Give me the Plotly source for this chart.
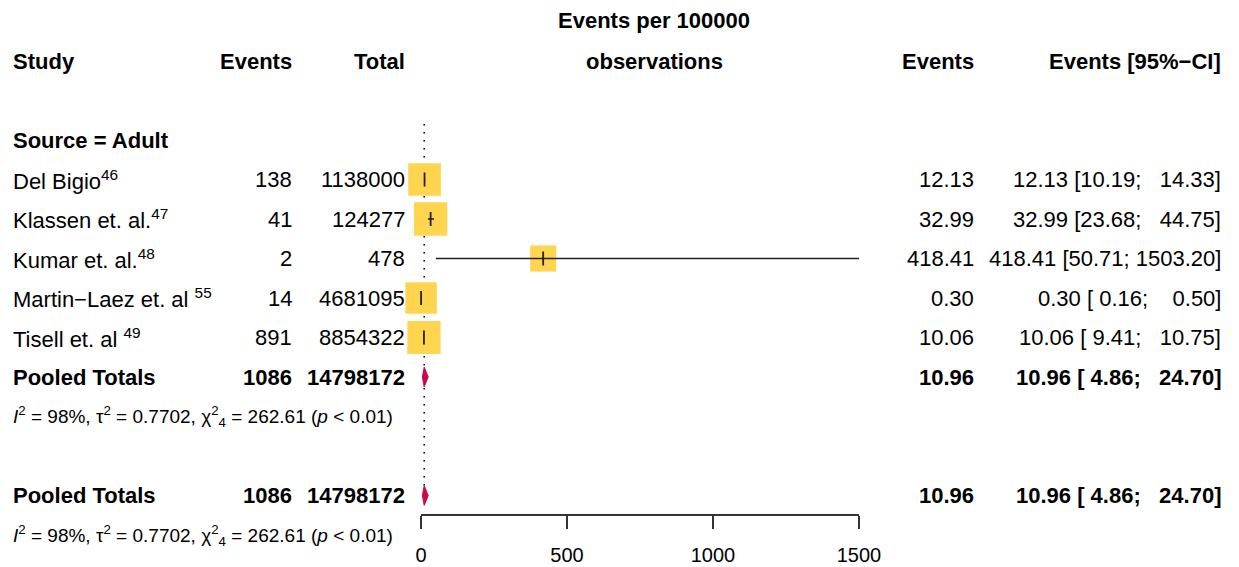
import plotly.graph_objects as go

# ---------------- data ----------------
studies = ["Del Bigio", "Klassen et. al.", "Kumar et. al.", "Martin\u2212Laez et. al\u00a0", "Tisell et. al\u00a0"]
refs = ["46", "47", "48", "55", "49"]
events = [138, 41, 2, 14, 891]
totals = [1138000, 124277, 478, 4681095, 8854322]
rate = [12.13, 32.99, 418.41, 0.30, 10.06]
lower = [10.19, 23.68, 50.71, 0.16, 9.41]
upper = [14.33, 44.75, 1503.20, 0.50, 10.75]
weights = [21.6, 22.4, 13.7, 20.0, 22.3]   # approx. % weight (square area)

pooled_events = 1086
pooled_total = 14798172
pooled_rate = 10.96
pooled_lower = 4.86
pooled_upper = 24.70
het_text = "<i>I</i><sup>2</sup> = 98%, \u03c4<sup>2</sup> = 0.7702, \u03c7<sup>2</sup><sub>4</sub> = 262.61 (<i>p</i> &lt; 0.01)"

x_ticks = [0, 500, 1000, 1500]

# ---------------- layout geometry ----------------
W, H = 1239, 567
ROW0_PX, ROW_PX = 61.0, 39.5
def row_of(px):
    return (px - ROW0_PX) / ROW_PX

study_rows = [3, 4, 5, 6, 7]
pooled_rows = [8, 11]
stat_rows = [9, 12]

FONT = "Liberation Sans, Arial, sans-serif"
FS = 22
FS_STAT = 19

def px(x):
    return x / W

fig = go.Figure()

# reference (dotted) line at pooled estimate
fig.add_trace(go.Scatter(x=[pooled_rate, pooled_rate], y=[row_of(124), pooled_rows[1]],
                         mode="lines", line=dict(color="#111", width=1.6, dash="1.6px,6.4px"),
                         hoverinfo="skip", showlegend=False))

# squares
sizes = [7.04 * (w ** 0.5) for w in weights]
fig.add_trace(go.Scatter(x=rate, y=study_rows, mode="markers",
                         marker=dict(symbol="square", size=sizes, color="#FFD54F", opacity=1,
                                     line=dict(width=0)),
                         cliponaxis=False, hoverinfo="skip", showlegend=False))

# CI lines
cx, cy = [], []
for l, u, r in zip(lower, upper, study_rows):
    cx += [l, u, None]
    cy += [r, r, None]
fig.add_trace(go.Scatter(x=cx, y=cy, mode="lines", line=dict(color="#222", width=1.6),
                         hoverinfo="skip", showlegend=False))

# estimate ticks
fig.add_trace(go.Scatter(x=rate, y=study_rows, mode="markers",
                         marker=dict(symbol="line-ns", size=10, opacity=1,
                                     line=dict(width=1.8, color="#222")),
                         cliponaxis=False, hoverinfo="skip", showlegend=False))

# diamonds
for r in pooled_rows:
    h = 0.25
    fig.add_trace(go.Scatter(x=[pooled_lower, pooled_rate, pooled_upper, pooled_rate, pooled_lower],
                             y=[r, r - h, r, r + h, r], mode="lines", fill="toself",
                             fillcolor="#C8084F", line=dict(color="#C8084F", width=1),
                             hoverinfo="skip", showlegend=False))

# ---------------- text ----------------
ann = []
def txt(x, row, s, anchor="left", bold=False, size=FS):
    if bold:
        s = "<b>" + s + "</b>"
    ann.append(dict(x=px(x), y=row, xref="paper", yref="y", text=s, showarrow=False,
                    xanchor=anchor, yanchor="middle", borderpad=0, borderwidth=0,
                    font=dict(family=FONT, size=size, color="black")))

# headers
txt(654, row_of(20), "Events per 100000", "center", True)
txt(13, 0, "Study", "left", True)
txt(292, 0, "Events", "right", True)
txt(405, 0, "Total", "right", True)
txt(654, 0, "observations", "center", True)
txt(974, 0, "Events", "right", True)
txt(1221, 0, "Events [95%\u2212CI]", "right", True)

txt(13, 2, "Source = Adult", "left", True)

def nb(s):
    return s.replace(" ", "\u00a0")

for name, ref, e, t, r, l, u, row in zip(studies, refs, events, totals, rate, lower, upper, study_rows):
    txt(13, row, f"{name}<sup>{ref}</sup>", "left")
    txt(292, row, str(e), "right")
    txt(405, row, str(t), "right")
    txt(974, row, f"{r:.2f}", "right")
    txt(1221, row, nb(f"{r:.2f} [{l:5.2f}; {u:7.2f}]"), "right")

for row, srow in zip(pooled_rows, stat_rows):
    txt(13, row, "Pooled Totals", "left", True)
    txt(292, row, str(pooled_events), "right", True)
    txt(405, row, str(pooled_total), "right", True)
    txt(974, row, f"{pooled_rate:.2f}", "right", True)
    txt(1221, row, nb(f"{pooled_rate:.2f} [{pooled_lower:5.2f}; {pooled_upper:7.2f}]"), "right", True)
    txt(13, srow, het_text, "left", False, FS_STAT)

fig.update_layout(
    width=W, height=H, autosize=False, margin=dict(l=0, r=0, t=0, b=0, pad=0),
    paper_bgcolor="white", plot_bgcolor="white",
    annotations=ann,
    xaxis=dict(domain=[421 / W, 859 / W], range=[0, 1500], anchor="free",
               position=(H - 515) / H, showgrid=False, zeroline=False, automargin=False,
               showline=True, linecolor="#333", linewidth=1.5,
               ticks="outside", ticklen=13, tickwidth=1.5, tickcolor="#333",
               tickvals=x_ticks, ticktext=[str(v) for v in x_ticks],
               tickfont=dict(family=FONT, size=20, color="black"),
               ticklabelstandoff=9),
    yaxis=dict(domain=[0, 1], range=[row_of(H), row_of(0)], visible=False, automargin=False,
               showgrid=False, zeroline=False),
)

fig.write_html("out.html",
               config={"responsive": False, "displayModeBar": False},
               post_script="document.body.style.margin='0';document.body.style.overflow='hidden';")
